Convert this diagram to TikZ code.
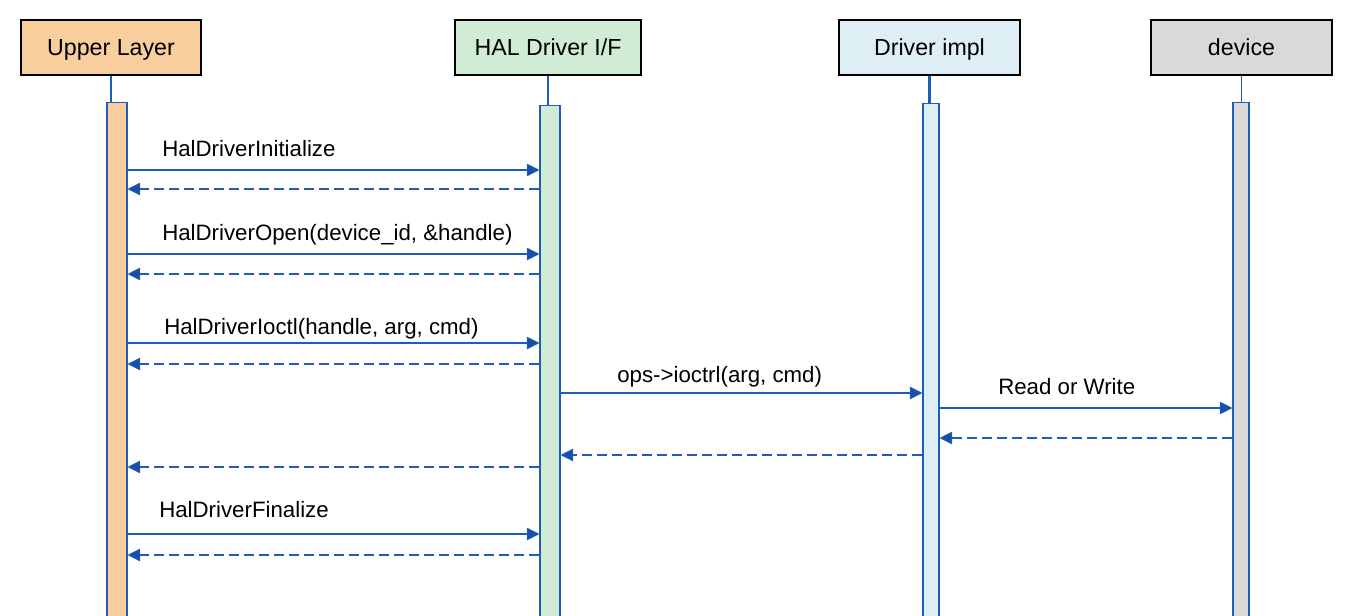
\documentclass[tikz,border=0pt]{standalone}
\usepackage{fontspec}
\setmainfont{Liberation Sans}
\usetikzlibrary{arrows.meta}
\definecolor{lineblue}{HTML}{1F5BB8}
\definecolor{tipblue}{HTML}{1A4EA5}
\definecolor{cup}{HTML}{F8CE9C}
\definecolor{chal}{HTML}{D0ECD5}
\definecolor{cdrv}{HTML}{DDEEF5}
\definecolor{cdev}{HTML}{D9D9D9}
\tikzset{
  hdr/.style={draw=black, line width=0.9pt, minimum height=41.25pt, inner sep=0pt,
    text height=12.4pt, text depth=0pt,
    font=\fontsize{17.4pt}{20pt}\selectfont},
  actbar/.style={draw=lineblue, line width=0.8pt, anchor=north, inner sep=0pt, minimum height=390pt},
  life/.style={draw=lineblue, line width=0.8pt},
  msg/.style={draw=lineblue, line width=0.8pt, -{Triangle[length=9.5pt,width=9.5pt,fill=tipblue]}},
  ret/.style={msg, dash pattern=on 7.5pt off 3.75pt},
  lbl/.style={anchor=base west, inner sep=0pt, font=\fontsize{16.7pt}{20pt}\selectfont}
}
\begin{document}
\begin{tikzpicture}[x=0.75pt,y=-0.75pt]
\useasboundingbox (0,0) rectangle (1364,615);
% headers
\node[hdr, fill=cup, minimum width=135pt] (up) at (111,47.5) {Upper Layer};
\node[hdr, fill=chal, minimum width=139.5pt] (hal) at (548,47.5) {HAL Driver I/F};
\node[hdr, fill=cdrv, minimum width=135.75pt] (drv) at (929.5,47.5) {Driver impl};
\node[hdr, fill=cdev, minimum width=135.75pt] (dev) at (1241.5,47.5) {device};
% activation bars
\node[actbar, fill=cup, minimum width=15pt] (upb) at (117,102) {};
\node[actbar, fill=chal, minimum width=15pt] (halb) at (550,105) {};
\node[actbar, fill=cdrv, minimum width=12pt] (drvb) at (931,103) {};
\node[actbar, fill=cdev, minimum width=12pt] (devb) at (1241,102) {};
% lifelines
\draw[life] (up.south) -- (up.south |- upb.north);
\draw[life] (hal.south) -- (hal.south |- halb.north);
\draw[life, line width=1.6pt] (drv.south) -- (drv.south |- drvb.north);
\draw[life] (dev.south) -- (dev.south |- devb.north);
% message levels
\coordinate (m1) at (0,170);
\coordinate (r1) at (0,189);
\coordinate (m2) at (0,254);
\coordinate (r2) at (0,274);
\coordinate (m3) at (0,343);
\coordinate (r3) at (0,364);
\coordinate (m4) at (0,393);
\coordinate (m5) at (0,408);
\coordinate (r5) at (0,438);
\coordinate (r4) at (0,455);
\coordinate (r6) at (0,467);
\coordinate (m7) at (0,534);
\coordinate (r7) at (0,555);
% messages
\draw[msg] (upb.east |- m1) -- (halb.west |- m1);
\draw[ret] (halb.west |- r1) -- (upb.east |- r1);
\draw[msg] (upb.east |- m2) -- (halb.west |- m2);
\draw[ret] (halb.west |- r2) -- (upb.east |- r2);
\draw[msg] (upb.east |- m3) -- (halb.west |- m3);
\draw[ret] (halb.west |- r3) -- (upb.east |- r3);
\draw[msg] (halb.east |- m4) -- (drvb.west |- m4);
\draw[msg] (drvb.east |- m5) -- (devb.west |- m5);
\draw[ret] (devb.west |- r5) -- (drvb.east |- r5);
\draw[ret] (drvb.west |- r4) -- (halb.east |- r4);
\draw[ret] (halb.west |- r6) -- (upb.east |- r6);
\draw[msg] (upb.east |- m7) -- (halb.west |- m7);
\draw[ret] (halb.west |- r7) -- (upb.east |- r7);
% labels
\node[lbl] (l1) at (162,156) {HalDriverInitialize};
\node[lbl] (l2) at (162,240) {HalDriverOpen(device\_id, \&handle)};
\node[lbl] (l3) at (164,334) {HalDriverIoctl(handle, arg, cmd)};
\node[lbl] (l4) at (617,382) {ops->ioctrl(arg, cmd)};
\node[lbl] (l5) at (998,394) {Read or Write};
\node[lbl] (l6) at (159,517) {HalDriverFinalize};
\end{tikzpicture}
\end{document}
